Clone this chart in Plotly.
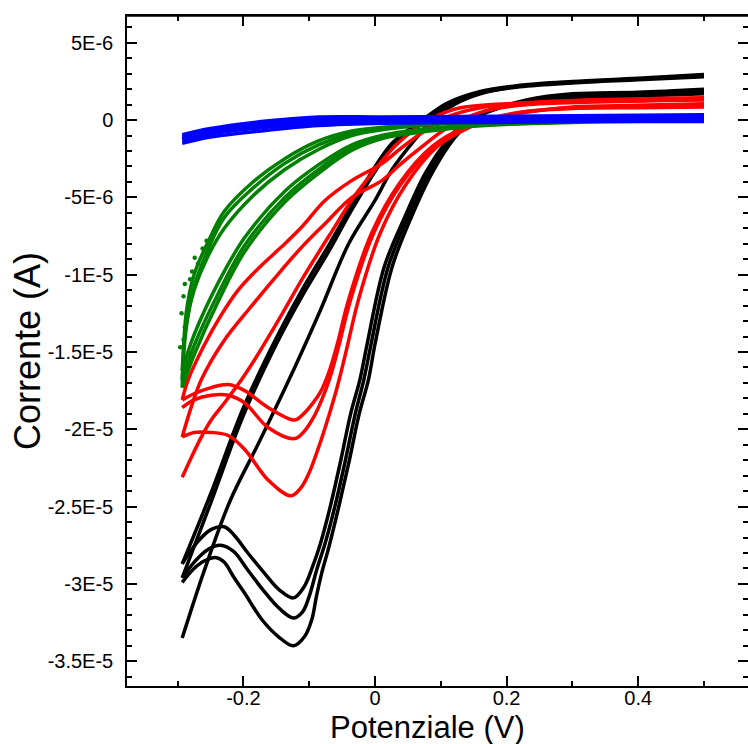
import plotly.graph_objects as go

# ---------------- data (potential in V, current in microampere) -------------
# BLACK: three cycles
BK_AN1_V = [-0.293, -0.26, -0.22, -0.177, -0.122, -0.084, -0.04, 0.0, 0.026, 0.06, 0.087, 0.12, 0.16, 0.22, 0.3, 0.4, 0.5]
BK_AN1_I = [-33.5, -29.2, -24.6, -20.9, -16.0, -12.4, -8.0, -5.2, -3.2, -1.3, 0.0, 1.0, 1.7, 2.2, 2.45, 2.65, 2.85]
BK_AN_V = [-0.293, -0.25, -0.2, -0.15, -0.111, -0.069, -0.031, 0.026, 0.072, 0.11, 0.16, 0.22, 0.3, 0.4, 0.5]
BK_AN2_I = [-28.7, -24.2, -18.6, -14.1, -11.0, -8.0, -5.2, -1.5, 0.0, 1.1, 1.85, 2.25, 2.5, 2.7, 2.95]
BK_AN3_I = [-29.6, -24.8, -19.1, -14.5, -11.4, -8.4, -5.5, -1.8, -0.2, 0.95, 1.75, 2.15, 2.4, 2.6, 2.8]

BK_CA1_V = [0.5, 0.4, 0.3, 0.23, 0.19, 0.155, 0.133, 0.11, 0.077, 0.045, 0.014, -0.012, -0.023, -0.037, -0.053,
            -0.068, -0.083, -0.095, -0.108, -0.124, -0.145, -0.17, -0.195, -0.213, -0.229, -0.25, -0.27, -0.293]
BK_CA1_I = [1.7, 1.55, 1.45, 1.2, 0.85, 0.35, -0.25, -1.3, -3.4, -6.3, -9.5, -14.5, -16.8, -19.0, -22.2,
            -25.0, -27.4, -28.9, -30.2, -30.9, -30.4, -29.2, -27.9, -26.9, -26.3, -26.5, -27.3, -28.7]
BK_CA2_V = [0.5, 0.4, 0.3, 0.23, 0.19, 0.16, 0.138, 0.115, 0.082, 0.05, 0.02, -0.006, -0.017, -0.03, -0.046,
            -0.061, -0.076, -0.088, -0.1, -0.11, -0.124, -0.145, -0.17, -0.195, -0.215, -0.235, -0.255, -0.275, -0.293]
BK_CA2_I = [1.85, 1.7, 1.6, 1.25, 0.8, 0.35, -0.25, -1.3, -3.4, -6.3, -9.5, -14.5, -16.8, -19.0, -22.2,
            -25.0, -27.4, -29.0, -30.8, -31.8, -32.2, -31.6, -30.4, -29.0, -27.9, -27.5, -27.8, -28.6, -29.6]
BK_CA3_V = [0.5, 0.4, 0.3, 0.23, 0.19, 0.165, 0.143, 0.12, 0.087, 0.055, 0.026, 0.0, -0.01, -0.024, -0.04,
            -0.055, -0.07, -0.081, -0.089, -0.096, -0.107, -0.124, -0.147, -0.172, -0.198, -0.214, -0.229,
            -0.241, -0.259, -0.275, -0.293]
BK_CA3_I = [2.0, 1.8, 1.7, 1.3, 0.8, 0.4, -0.2, -1.2, -3.4, -6.3, -9.5, -14.5, -16.8, -19.0, -22.2,
            -25.0, -27.6, -29.3, -30.8, -32.3, -33.4, -34.0, -33.4, -32.3, -30.6, -29.6, -28.6,
            -28.3, -28.5, -29.0, -29.9]

# RED: three cycles
RD_AN1_V = [-0.293, -0.279, -0.264, -0.249, -0.229, -0.203, -0.183, -0.142, -0.111, -0.07, -0.031, 0.0, 0.03,
            0.06, 0.09, 0.13, 0.22, 0.32, 0.5]
RD_AN1_I = [-23.1, -21.8, -20.5, -19.4, -18.3, -16.8, -15.5, -12.6, -10.3, -7.5, -4.9, -3.2, -1.7,
            -0.6, 0.2, 0.8, 1.1, 1.3, 1.45]
RD_AN2_V = [-0.293, -0.264, -0.23, -0.193, -0.142, -0.111, -0.076, -0.035, 0.011, 0.04, 0.072, 0.11, 0.16, 0.22,
            0.32, 0.5]
RD_AN2_I = [-20.5, -16.8, -14.3, -12.3, -9.7, -8.2, -6.7, -5.0, -3.9, -2.8, -1.7, -0.5, 0.5, 0.95,
            1.15, 1.3]
RD_AN3_V = [-0.293, -0.284, -0.26, -0.235, -0.208, -0.175, -0.142, -0.111, -0.076, -0.035, 0.011, 0.04, 0.072,
            0.11, 0.16, 0.22, 0.32, 0.5]
RD_AN3_I = [-18.1, -16.8, -14.6, -12.7, -11.0, -9.5, -8.2, -6.9, -5.2, -3.9, -2.8, -1.8, -0.8,
            0.2, 0.8, 1.05, 1.25, 1.4]

RD_CA1_V = [0.5, 0.4, 0.3, 0.23, 0.19, 0.145, 0.095, 0.048, 0.008, -0.025, -0.043, -0.057, -0.07, -0.086, -0.1,
            -0.113, -0.128, -0.162, -0.198, -0.223, -0.249, -0.275, -0.293]
RD_CA1_I = [0.85, 0.8, 0.75, 0.55, 0.25, -0.45, -1.7, -4.1, -7.3, -11.6, -14.8, -17.2, -19.1, -21.2, -22.8,
            -23.8, -24.3, -23.3, -21.3, -20.4, -20.2, -20.2, -20.5]
RD_CA2_V = [0.5, 0.4, 0.3, 0.23, 0.19, 0.137, 0.087, 0.037, -0.005, -0.04, -0.058, -0.07, -0.083, -0.098, -0.111,
            -0.122, -0.162, -0.198, -0.223, -0.249, -0.275, -0.293]
RD_CA2_I = [0.95, 0.9, 0.8, 0.55, 0.2, -0.45, -1.7, -4.1, -7.3, -11.6, -14.6, -16.3, -17.6, -18.5, -19.1,
            -19.4, -18.6, -17.5, -17.1, -17.3, -17.7, -18.1]
RD_CA3_V = [0.5, 0.4, 0.3, 0.23, 0.19, 0.14, 0.09, 0.04, -0.002, -0.037, -0.055, -0.068, -0.08, -0.093, -0.107,
            -0.122, -0.162, -0.198, -0.223, -0.249, -0.275, -0.293]
RD_CA3_I = [1.05, 0.95, 0.85, 0.5, 0.15, -0.45, -1.7, -4.1, -7.3, -11.6, -14.6, -16.6, -18.0, -19.2, -20.1,
            -20.6, -19.9, -18.3, -17.8, -17.8, -18.1, -18.6]

# GREEN: three cycles
GR_CA_V = [0.5, 0.3, 0.15, 0.05, 0.015, -0.035, -0.086, -0.137, -0.198, -0.238, -0.275, -0.293]
GR_CA1_I = [0.0, -0.1, -0.35, -0.8, -1.05, -1.8, -3.2, -5.0, -8.1, -11.2, -14.6, -16.8]
GR_CA2_I = [0.0, -0.1, -0.3, -0.7, -0.95, -1.6, -2.9, -4.6, -7.6, -10.5, -13.9, -16.2]
GR_CA3_I = [-0.05, -0.15, -0.4, -0.9, -1.15, -1.95, -3.45, -5.3, -8.5, -11.7, -15.2, -17.3]
GR_AN_V = [-0.293, -0.287, -0.275, -0.255, -0.229, -0.188, -0.137, -0.086, -0.035, 0.015, 0.1, 0.3, 0.5]
GR_AN1_I = [-16.8, -13.5, -10.8, -8.5, -6.3, -4.5, -2.8, -1.6, -0.85, -0.5, -0.2, 0.0, 0.05]
GR_AN2_I = [-16.2, -13.2, -11.0, -8.9, -7.0, -5.0, -3.2, -1.9, -1.0, -0.6, -0.25, -0.05, 0.0]
GR_AN3_I = [-17.3, -12.5, -10.0, -8.0, -5.9, -4.1, -2.5, -1.35, -0.7, -0.45, -0.15, 0.05, 0.1]
# scattered (noisy) green points on the upper-left edge of the band
GR_DOTS_V = [-0.289, -0.274, -0.269, -0.281, -0.291, -0.284, -0.294, -0.289, -0.291, -0.296, -0.284,
             -0.256, -0.236, -0.262, -0.278]
GR_DOTS_I = [-10.6, -8.9, -9.3, -10.3, -11.4, -11.9, -12.5, -13.4, -14.2, -14.7, -15.1,
             -7.8, -6.5, -8.3, -9.8]

# BLUE: three cycles
BL_AN_V = [-0.293, -0.25, -0.173, -0.086, 0.015, 0.2, 0.35, 0.5]
BL_AN1_I = [-0.95, -0.55, -0.1, 0.2, 0.2, 0.25, 0.3, 0.35]
BL_AN2_I = [-1.1, -0.7, -0.25, 0.05, 0.1, 0.15, 0.2, 0.25]
BL_AN3_I = [-1.2, -0.8, -0.35, -0.05, 0.0, 0.1, 0.15, 0.2]
BL_CA_V = [0.5, 0.35, 0.2, 0.015, -0.086, -0.173, -0.25, -0.293]
BL_CA1_I = [-0.1, -0.1, -0.15, -0.2, -0.35, -0.7, -1.1, -1.5]
BL_CA2_I = [0.05, 0.0, -0.05, -0.1, -0.2, -0.5, -0.9, -1.3]
BL_CA3_I = [0.1, 0.05, 0.0, -0.05, -0.15, -0.45, -0.8, -1.2]

Y_TICK_VALS = [5e-6, 0, -5e-6, -1e-5, -1.5e-5, -2e-5, -2.5e-5, -3e-5, -3.5e-5]
Y_TICK_TEXT = ["5E-6", "0", "-5E-6", "-1E-5", "-1.5E-5", "-2E-5", "-2.5E-5", "-3E-5", "-3.5E-5"]
X_TICK_VALS = [-0.2, 0, 0.2, 0.4]
X_TICK_TEXT = ["-0.2", "0", "0.2", "0.4"]

SERIES = [
    ("#000000", [(BK_AN1_V, BK_AN1_I), (BK_CA1_V, BK_CA1_I), (BK_AN_V, BK_AN2_I), (BK_CA2_V, BK_CA2_I),
                 (BK_AN_V, BK_AN3_I), (BK_CA3_V, BK_CA3_I)]),
    ("#ff0000", [(RD_AN1_V, RD_AN1_I), (RD_CA1_V, RD_CA1_I), (RD_AN2_V, RD_AN2_I), (RD_CA2_V, RD_CA2_I),
                 (RD_AN3_V, RD_AN3_I), (RD_CA3_V, RD_CA3_I)]),
    ("#008000", [(GR_CA_V, GR_CA1_I), (GR_AN_V, GR_AN1_I), (GR_CA_V, GR_CA2_I), (GR_AN_V, GR_AN2_I),
                 (GR_CA_V, GR_CA3_I), (GR_AN_V, GR_AN3_I)]),
    ("#0000ff", [(BL_CA_V, BL_CA1_I), (BL_AN_V, BL_AN1_I), (BL_CA_V, BL_CA2_I), (BL_AN_V, BL_AN2_I),
                 (BL_CA_V, BL_CA3_I), (BL_AN_V, BL_AN3_I)]),
]

fig = go.Figure()
for color, sweeps in SERIES:
    for v, i in sweeps:
        fig.add_trace(go.Scatter(
            x=v, y=[c * 1e-6 for c in i], mode="lines",
            line=dict(color=color, width=3.5, shape="spline", smoothing=1.0),
            showlegend=False, hoverinfo="skip"))
    if color == "#008000":
        fig.add_trace(go.Scatter(
            x=GR_DOTS_V, y=[c * 1e-6 for c in GR_DOTS_I], mode="markers",
            marker=dict(color=color, size=4.5, line=dict(width=0)),
            showlegend=False, hoverinfo="skip"))

FONT = "Liberation Sans, Arial, sans-serif"
axis_common = dict(
    showline=True, linecolor="black", linewidth=1.5, mirror="ticks",
    ticks="inside", ticklen=10, tickwidth=1.5, tickcolor="black",
    showgrid=False, zeroline=False,
    tickfont=dict(family=FONT, size=20, color="black"),
)
fig.update_xaxes(
    range=[-0.3769, 0.5669], tickmode="array", tickvals=X_TICK_VALS, ticktext=X_TICK_TEXT,
    minor=dict(tickmode="linear", tick0=0, dtick=0.1, ticks="inside", ticklen=5, tickwidth=1.5, tickcolor="black"),
    ticklabelstandoff=-7, **axis_common)
fig.update_yaxes(
    range=[-36.6e-6, 6.73e-6], tickmode="array", tickvals=Y_TICK_VALS, ticktext=Y_TICK_TEXT,
    minor=dict(tickmode="linear", tick0=0, dtick=1e-6, ticks="inside", ticklen=5, tickwidth=1.5, tickcolor="black"),
    ticklabelstandoff=8, **axis_common)

fig.update_layout(
    width=748, height=744,
    margin=dict(l=127, r=0, t=16, b=58, autoexpand=False),
    paper_bgcolor="white", plot_bgcolor="white",
    showlegend=False,
    shapes=[dict(type="line", xref="paper", yref="paper", x0=0, x1=1, y0=1, y1=1,
                 line=dict(color="black", width=1.5))],
    annotations=[
        dict(text="Potenziale (V)", xref="paper", yref="paper", x=0.4847, y=-0.0612,
             xanchor="center", yanchor="middle", showarrow=False,
             font=dict(family=FONT, size=31, color="black")),
        dict(text="Corrente (A)", xref="paper", yref="paper", x=-0.161, y=0.5, textangle=-90,
             xanchor="center", yanchor="middle", showarrow=False,
             font=dict(family=FONT, size=36, color="black")),
    ],
)
fig.write_html("out.html")
